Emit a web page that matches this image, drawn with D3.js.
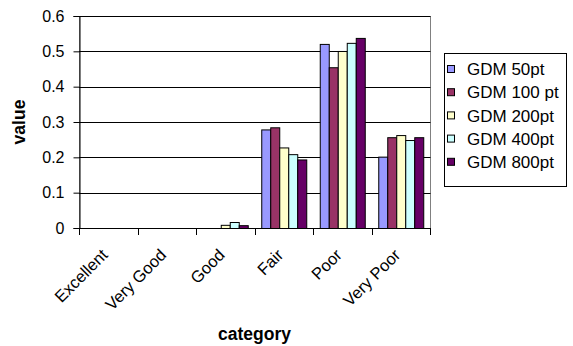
<!DOCTYPE html>
<html>
<head>
<meta charset="utf-8">
<script src="https://cdn.jsdelivr.net/npm/d3@7"></script>
<style>
  html, body { margin: 0; padding: 0; background: #fff; }
  svg { display: block; font-family: Arial, "Liberation Sans", sans-serif; }
</style>
</head>
<body>
<svg id="chart" width="573" height="346"></svg>
<script>
// Quality ratings on the x axis
const categories = ["Excellent", "Very Good", "Good", "Fair", "Poor", "Very Poor"];
// Series names shown in the legend
const seriesNames = ["GDM 50pt", "GDM 100 pt", "GDM 200pt", "GDM 400pt", "GDM 800pt"];
// One value per category, for each series
const gdm50  = [0, 0, 0,     0.279, 0.521, 0.202];
const gdm100 = [0, 0, 0,     0.285, 0.455, 0.257];
const gdm200 = [0, 0, 0.009, 0.228, 0.501, 0.263];
const gdm400 = [0, 0, 0.017, 0.209, 0.524, 0.249];
const gdm800 = [0, 0, 0.008, 0.194, 0.538, 0.257];
const seriesValues = [gdm50, gdm100, gdm200, gdm400, gdm800];
const yTicks = [0, 0.1, 0.2, 0.3, 0.4, 0.5, 0.6];
const colors = ["#9999FF", "#993366", "#FFFFCC", "#CCFFFF", "#660066"];

const svg = d3.select("#chart");
const plot = { left: 79, right: 430, top: 16, bottom: 228 };

const x = d3.scaleBand().domain(categories).range([plot.left, plot.right]).padding(0);
const bw = x.bandwidth();
const gap = bw * 0.75 / 6.5;
const xs = d3.scaleBand().domain(seriesNames).range([gap, bw - gap]).padding(0);
const y = d3.scaleLinear().domain([0, 0.6]).range([plot.bottom, plot.top]);

// plot area frame
svg.append("rect")
  .attr("x", plot.left + 0.5).attr("y", plot.top + 0.5)
  .attr("width", plot.right - plot.left).attr("height", plot.bottom - plot.top)
  .attr("fill", "#fff").attr("stroke", "#808080");

// horizontal gridlines
svg.append("g").selectAll("line").data(yTicks.slice(1)).join("line")
  .attr("x1", plot.left).attr("x2", plot.right + 0.5)
  .attr("y1", d => Math.round(y(d)) + 0.5).attr("y2", d => Math.round(y(d)) + 0.5)
  .attr("stroke", "#000").attr("stroke-width", 1);

// bars
const rows = [];
seriesValues.forEach((vals, si) => {
  vals.forEach((v, ci) => rows.push({ s: seriesNames[si], si, c: categories[ci], v }));
});
svg.append("g").selectAll("rect").data(rows.filter(d => d.v > 0)).join("rect")
  .attr("x", d => x(d.c) + xs(d.s) + 0.5)
  .attr("y", d => y(d.v) + 0.5)
  .attr("width", xs.bandwidth())
  .attr("height", d => y(0) - y(d.v))
  .attr("fill", d => colors[d.si])
  .attr("stroke", "#000").attr("stroke-width", 1);

// y axis
const yAxis = svg.append("g")
  .attr("transform", `translate(${plot.left + 0.5},0)`)
  .call(d3.axisLeft(y).tickValues(yTicks).tickFormat(d => d === 0 ? "0" : d3.format(".1f")(d))
    .tickSize(6).tickPadding(9));
yAxis.select(".domain").attr("stroke", "#000");
yAxis.selectAll(".tick line").attr("stroke", "#000");
yAxis.selectAll("text").attr("font-size", 16).attr("fill", "#000")
  .attr("font-family", "Arial, 'Liberation Sans', sans-serif");

// x axis line and ticks at category boundaries
svg.append("line")
  .attr("x1", plot.left).attr("x2", plot.right + 1)
  .attr("y1", plot.bottom + 0.5).attr("y2", plot.bottom + 0.5)
  .attr("stroke", "#000");
const bounds = categories.map(c => x(c)).concat([plot.right]);
svg.append("g").selectAll("line").data(bounds).join("line")
  .attr("x1", d => Math.round(d) + 0.5).attr("x2", d => Math.round(d) + 0.5)
  .attr("y1", plot.bottom).attr("y2", plot.bottom + 7)
  .attr("stroke", "#000");

// rotated category labels
svg.append("g").selectAll("text").data(categories).join("text")
  .attr("transform", d => `translate(${x(d) + bw / 2 - 3.5},${plot.bottom + 24}) rotate(-45)`)
  .attr("text-anchor", "end")
  .attr("dy", "0.35em")
  .attr("font-size", 16.5)
  .text(d => d);

// axis titles
svg.append("text")
  .attr("transform", `translate(25,${(plot.top + plot.bottom) / 2}) rotate(-90)`)
  .attr("text-anchor", "middle")
  .attr("font-size", 17.5).attr("font-weight", "bold")
  .text("value");
svg.append("text")
  .attr("x", (plot.left + plot.right) / 2).attr("y", 340)
  .attr("text-anchor", "middle")
  .attr("font-size", 17.5).attr("font-weight", "bold")
  .text("category");

// legend
const legend = svg.append("g");
legend.append("rect")
  .attr("x", 444.5).attr("y", 53.5).attr("width", 122).attr("height", 133)
  .attr("fill", "#fff").attr("stroke", "#000");
const items = legend.selectAll("g").data(seriesNames).join("g")
  .attr("transform", (d, i) => `translate(447,${69 + i * 23.2})`);
items.append("rect")
  .attr("x", 0.5).attr("y", -3.5).attr("width", 7).attr("height", 7)
  .attr("fill", (d, i) => colors[i]).attr("stroke", "#000");
items.append("text")
  .attr("x", 20).attr("dy", "0.36em")
  .attr("font-size", 17)
  .text(d => d);
</script>
</body>
</html>
